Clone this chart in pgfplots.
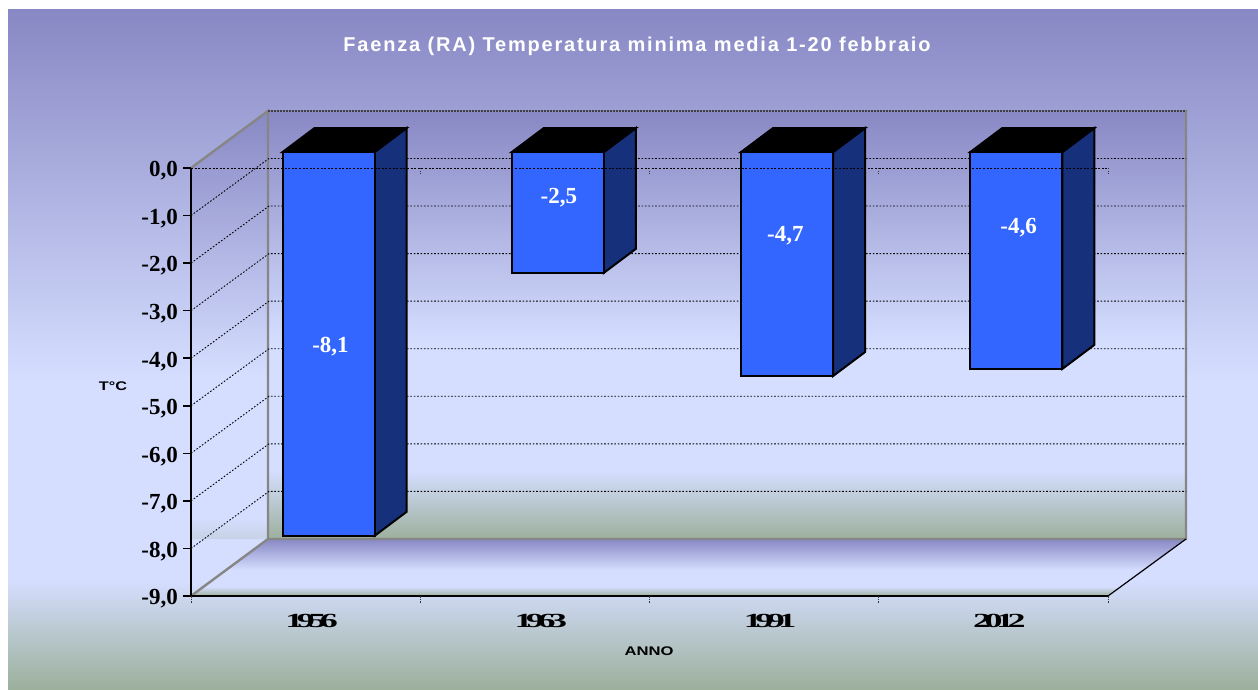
\documentclass[border=0pt]{standalone}
\usepackage{fontspec}
\usepackage{graphicx}
\usepackage{pgfplots}
\pgfplotsset{compat=1.18}
\setmainfont{Liberation Serif}
\newfontfamily\arialb{Liberation Sans}
\newfontfamily\arialtitle{Liberation Sans}[LetterSpace=9]
\newfontfamily\squeezed{Liberation Serif}[LetterSpace=-18]
\definecolor{barfront}{HTML}{3366FF}
\definecolor{barside}{HTML}{16307C}
\definecolor{wallgray}{HTML}{868686}
\definecolor{cgreen}{RGB}{156,176,156}
\definecolor{clight}{RGB}{213,222,255}
\definecolor{cpurple}{RGB}{136,136,196}
\pgfdeclareverticalshading{bgshade}{100bp}{%
  color(0bp)=(cgreen);
  color(25bp)=(cgreen);
  color(33bp)=(clight);
  color(47.75bp)=(clight);
  color(75bp)=(cpurple);
  color(100bp)=(cpurple)}
\begin{document}
\begin{tikzpicture}
\useasboundingbox (0pt,0pt) rectangle (1258pt,689pt);
\begin{scope}[x=1pt,y=-1pt,shift={(0pt,689pt)}]
  \shade[shading=bgshade] (8,10) rectangle (1258,689);
  \shade[shading=bgshade] (268,111) rectangle (1186,539);
  \begin{scope}
    \clip (191,168) -- (268,111) -- (268,539) -- (191,539) -- cycle;
    \shade[shading=bgshade] (191,111) rectangle (268,596);
  \end{scope}
  \shade[shading=bgshade] (191,596) -- (268,539) -- (1186,539) -- (1108,596) -- cycle;
  \draw[wallgray,line width=2.4pt] (191,168) -- (268,111) -- (268,539) -- (1186,539) -- (1186,110);
  \draw[wallgray,line width=2.4pt] (268,539) -- (191,596);
  \draw[black!75,line width=1.4pt,dash pattern=on 2pt off 1pt] (268,111) -- (1186,111);
  \draw[black,line width=1.2pt] (1108,596) -- (1186,539);
\end{scope}
\begin{axis}[
  at={(191pt,93pt)}, anchor=south west,
  scale only axis, width=917pt, height=428pt,
  xmin=0, xmax=4, ymin=-9, ymax=0,
  clip=false,
  axis x line*=bottom, axis y line*=left,
  axis line style={black,line width=1.6pt,-},
  tick align=outside,
  major tick length=8pt,
  ytick={-9,-8,-7,-6,-5,-4,-3,-2,-1,0},
  yticklabels={{-9,0},{-8,0},{-7,0},{-6,0},{-5,0},{-4,0},{-3,0},{-2,0},{-1,0},{0,0}},
  yticklabel style={font=\fontsize{23}{26}\selectfont\bfseries, inner sep=0pt, xshift=-5pt, yshift=-3pt},
  y tick style={black,line width=1.6pt},
  xtick={0.5,1.5,2.5,3.5},
  xticklabels={{\scalebox{1.8}[1]{1956}},{\scalebox{1.8}[1]{1963}},{\scalebox{1.8}[1]{1991}},{\scalebox{1.8}[1]{2012}}},
  x tick style={draw=none},
  xticklabel style={font=\fontsize{20}{24}\bfseries\squeezed\selectfont, inner sep=0pt, anchor=center, yshift=-17pt, xshift=6pt},
  title={\arialtitle\bfseries\textcolor{white}{Faenza (RA) Temperatura minima media 1-20 febbraio}},
  title style={at={(rel axis cs:0.4864,1.2897)},anchor=center,yshift=-8pt,font=\fontsize{20}{24}\selectfont,inner sep=0pt},
  xlabel={\scalebox{1.33}[1]{ANNO}},
  xlabel style={at={(rel axis cs:0.4995,-0.1285)},anchor=center,font=\fontsize{12.5}{14}\selectfont\arialb\bfseries,inner sep=0pt},
  ylabel={\scalebox{1.3}[1]{T°C}},
  ylabel style={at={(rel axis cs:-0.085,0.4907)},anchor=center,rotate=-90,font=\fontsize{12.5}{14}\selectfont\arialb\bfseries,inner sep=0pt},
]
% grid on the side and back walls
\pgfplotsset{walldot/.style={black,line width=0.9pt,dash pattern=on 1.6pt off 1.8pt,forget plot}}
\addplot[walldot] coordinates {(0,-1)(0.3402,0.2)(4.3402,0.2)};
\addplot[walldot] coordinates {(0,-2)(0.3402,-0.8)(4.3402,-0.8)};
\addplot[walldot] coordinates {(0,-3)(0.3402,-1.8)(4.3402,-1.8)};
\addplot[walldot] coordinates {(0,-4)(0.3402,-2.8)(4.3402,-2.8)};
\addplot[walldot] coordinates {(0,-5)(0.3402,-3.8)(4.3402,-3.8)};
\addplot[walldot] coordinates {(0,-6)(0.3402,-4.8)(4.3402,-4.8)};
\addplot[walldot] coordinates {(0,-7)(0.3402,-5.8)(4.3402,-5.8)};
\addplot[walldot] coordinates {(0,-8)(0.3402,-6.8)(4.3402,-6.8)};
% bar sides
\pgfplotsset{bside/.style={fill=barside,draw=black,line width=2pt,line join=miter,forget plot},
             btop/.style={fill=black,draw=black,line width=2pt,forget plot}}
\addplot[bside] coordinates {(0.801,0.336)(0.9406,0.841)(0.9406,-7.229)(0.801,-7.734)} --cycle;
\addplot[btop]  coordinates {(0.3996,0.336)(0.801,0.336)(0.9406,0.841)(0.5392,0.841)} --cycle;
\addplot[bside] coordinates {(1.801,0.336)(1.9406,0.841)(1.9406,-1.699)(1.801,-2.204)} --cycle;
\addplot[btop]  coordinates {(1.3996,0.336)(1.801,0.336)(1.9406,0.841)(1.5392,0.841)} --cycle;
\addplot[bside] coordinates {(2.801,0.336)(2.9406,0.841)(2.9406,-3.869)(2.801,-4.374)} --cycle;
\addplot[btop]  coordinates {(2.3996,0.336)(2.801,0.336)(2.9406,0.841)(2.5392,0.841)} --cycle;
\addplot[bside] coordinates {(3.801,0.336)(3.9406,0.841)(3.9406,-3.719)(3.801,-4.224)} --cycle;
\addplot[btop]  coordinates {(3.3996,0.336)(3.801,0.336)(3.9406,0.841)(3.5392,0.841)} --cycle;
% bar fronts
\addplot[ybar,bar width=92pt,bar shift=0pt,fill=barfront,draw=black,line width=2pt,xshift=23pt,yshift=16pt]
  coordinates {(0.5,-8.07)(1.5,-2.54)(2.5,-4.71)(3.5,-4.56)};
% zero line and small ticks
\addplot[black,line width=0.9pt,dash pattern=on 2pt off 1.6pt,forget plot] coordinates {(0,0)(4,0)};
\addplot[black!80,line width=1pt,dash pattern=on 1.5pt off 1.2pt,forget plot] coordinates {(1,0)(1,-0.13)};
\addplot[black!80,line width=1pt,dash pattern=on 1.5pt off 1.2pt,forget plot] coordinates {(2,0)(2,-0.13)};
\addplot[black!80,line width=1pt,dash pattern=on 1.5pt off 1.2pt,forget plot] coordinates {(3,0)(3,-0.13)};
\addplot[black!80,line width=1pt,dash pattern=on 1.5pt off 1.2pt,forget plot] coordinates {(4,0)(4,-0.13)};
\addplot[black!80,line width=1pt,dash pattern=on 1.5pt off 1.2pt,forget plot] coordinates {(0,-9)(0,-9.15)};
\addplot[black!80,line width=1pt,dash pattern=on 1.5pt off 1.2pt,forget plot] coordinates {(1,-9)(1,-9.15)};
\addplot[black!80,line width=1pt,dash pattern=on 1.5pt off 1.2pt,forget plot] coordinates {(2,-9)(2,-9.15)};
\addplot[black!80,line width=1pt,dash pattern=on 1.5pt off 1.2pt,forget plot] coordinates {(3,-9)(3,-9.15)};
\addplot[black!80,line width=1pt,dash pattern=on 1.5pt off 1.2pt,forget plot] coordinates {(4,-9)(4,-9.15)};
% value labels
\node[white,font=\fontsize{23}{26}\selectfont\bfseries,inner sep=0pt] at (axis cs:0.6085,-3.76) {-8,1};
\node[white,font=\fontsize{23}{26}\selectfont\bfseries,inner sep=0pt] at (axis cs:1.605,-0.63) {-2,5};
\node[white,font=\fontsize{23}{26}\selectfont\bfseries,inner sep=0pt] at (axis cs:2.593,-1.43) {-4,7};
\node[white,font=\fontsize{23}{26}\selectfont\bfseries,inner sep=0pt] at (axis cs:3.61,-1.26) {-4,6};
\end{axis}
\end{tikzpicture}
\end{document}
